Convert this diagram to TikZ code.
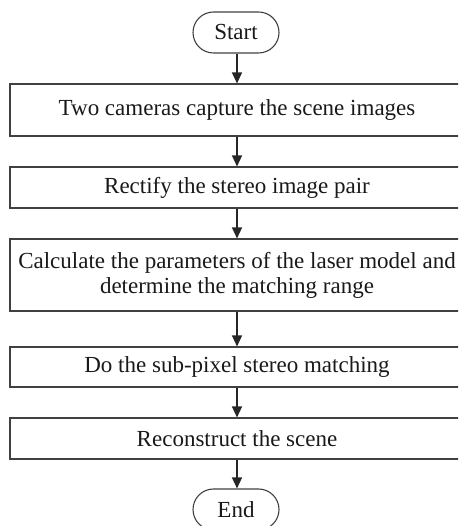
\documentclass[tikz,border=0pt]{standalone}
\usepackage{fontspec}
\setmainfont{Liberation Serif}
\usetikzlibrary{arrows.meta,shapes.misc}
\begin{document}
\begin{tikzpicture}[x=1pt,y=1pt,
  every node/.style={font=\fontsize{23}{25}\selectfont, text=black!90, inner sep=0pt},
  stepbox/.style={draw=black!75, line width=1.1pt, minimum width=454pt, align=center},
  terminal/.style={draw=black!75, line width=1.1pt, rounded rectangle, minimum width=86pt, minimum height=41pt},
  flow/.style={draw=black!85, line width=1.3pt, -{Triangle[length=11pt,width=10pt]}}]
  \useasboundingbox (0,0) rectangle (458,526);
  \clip (0,0) rectangle (458,526);
  % terminals and process steps, top to bottom
  \node[terminal] (start) at (236,493.5) {Start};
  \node[stepbox, minimum height=52pt] (s1) at (237,416) {Two cameras capture the scene images};
  \node[stepbox, minimum height=41pt] (s2) at (237,338.5) {Rectify the stereo image pair};
  \node[stepbox, minimum height=72pt] (s3) at (237,251) {Calculate the parameters of the laser model and\\determine the matching range};
  \node[stepbox, minimum height=40pt] (s4) at (237,159) {Do the sub-pixel stereo matching};
  \node[stepbox, minimum height=41pt] (s5) at (237,87.5) {Reconstruct the scene};
  \node[terminal] (end) at (236,16.5) {End};
  % connectors
  \draw[flow] (start.south -| s1.north) -- (s1.north);
  \draw[flow] (s1) -- (s2);
  \draw[flow] (s2) -- (s3);
  \draw[flow] (s3) -- (s4);
  \draw[flow] (s4) -- (s5);
  \draw[flow] (s5.south) -- (s5.south |- end.north);
\end{tikzpicture}
\end{document}
